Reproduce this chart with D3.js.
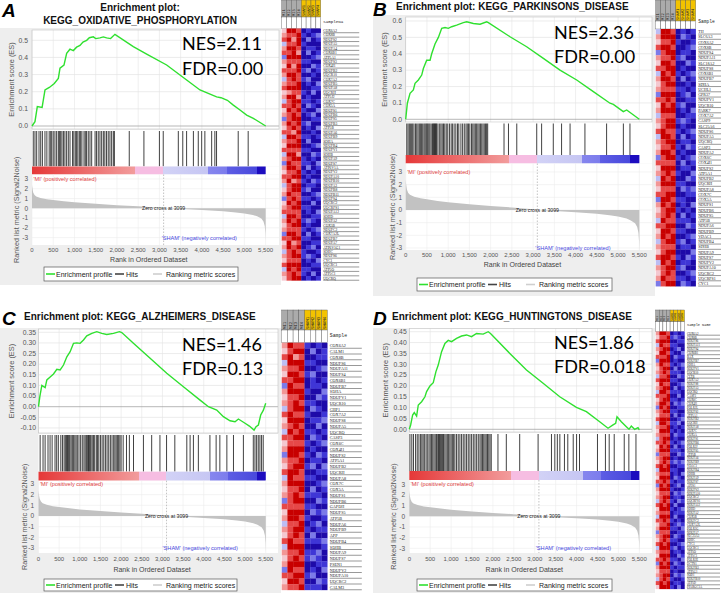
<!DOCTYPE html>
<html><head><meta charset="utf-8">
<script src="https://cdn.jsdelivr.net/npm/d3@7"></script>
<style>body{margin:0;background:#fff}svg{display:block}</style>
</head><body><script>
// ---------------- DATA ----------------
const xTicks=[0,500,1000,1500,2000,2500,3000,3500,4000,4500,5000,5500];
const sampleNames=["MI1","MI2","MI3","MI4","SHAM1","SHAM2","SHAM3","SHAM4"];
const zeroCross=3099;
const metricRanks=[0,5,15,30,60,100,200,350,500,750,1000,1500,2000,2500,3000,3099,3500,4000,4500,4800,5000,5200,5300,5400,5450,5480,5495,5502];
const metricVals=[2.4,2.2,1.9,1.6,1.35,1.2,1.05,0.92,0.85,0.72,0.62,0.46,0.32,0.2,0.06,0,-0.08,-0.18,-0.3,-0.42,-0.52,-0.68,-0.82,-1.05,-1.35,-1.8,-2.5,-3.3];
const cbRanks=[0,2425,2425,3093,3093,4152,4152,4584,4584,5290,5290,5502];
const cbColors=["#e53838","#f29c9c","#f6bde2","#f6bde2","#d2d2f6","#c6c6f3","#8686ee","#7c7cec","#5d5de4","#4848dc","#1c0cbf","#1c0cbf"];
const heatPalette=["#1e0aa8","#3f36d6","#7c7ae8","#bdbdf3","#f4c8d0","#f29696","#e64848","#c80000"];

const titles={A:["Enrichment plot:","KEGG_OXIDATIVE_PHOSPHORYLATION"],B:["Enrichment plot: KEGG_PARKINSONS_DISEASE"],C:["Enrichment plot: KEGG_ALZHEIMERS_DISEASE"],D:["Enrichment plot: KEGG_HUNTINGTONS_DISEASE"]};
const nesText={A:["NES=2.11","FDR=0.00"],B:["NES=2.36","FDR=0.00"],C:["NES=1.46","FDR=0.13"],D:["NES=1.86","FDR=0.018"]};

const esA=[[0,0],[70,0.025],[125,0.113],[238,0.108],[306,0.21],[408,0.225],[525,0.248],[620,0.278],[659,0.337],[753,0.355],[816,0.424],[894,0.448],[973,0.44],[1050,0.46],[1130,0.47],[1200,0.49],[1287,0.5],[1350,0.515],[1444,0.52],[1500,0.51],[1600,0.514],[1680,0.52],[1757,0.514],[1850,0.51],[1953,0.535],[2385,0.463],[2700,0.42],[3170,0.356],[3641,0.268],[3955,0.21],[4150,0.19],[4347,0.17],[4450,0.165],[4600,0.15],[4740,0.122],[4897,0.093],[5054,0.064],[5211,0.045],[5502,0]];
const esB=[[0,0],[39,0.098],[102,0.159],[180,0.179],[220,0.22],[298,0.24],[377,0.27],[416,0.31],[494,0.36],[573,0.36],[612,0.4],[690,0.46],[769,0.5],[848,0.555],[926,0.56],[1004,0.555],[1083,0.565],[1200,0.575],[1357,0.59],[1436,0.595],[1593,0.585],[1750,0.58],[1907,0.595],[1946,0.59],[2456,0.504],[2848,0.443],[3241,0.372],[3633,0.3],[4026,0.24],[4418,0.169],[4810,0.098],[4889,0.091],[5124,0.047],[5203,0.057],[5500,0]];
const esC=[[0,0],[32,0.047],[81,0.1],[161,0.09],[202,0.126],[282,0.14],[363,0.154],[444,0.176],[524,0.173],[605,0.196],[686,0.235],[766,0.259],[847,0.298],[927,0.3],[1008,0.298],[1089,0.314],[1169,0.333],[1290,0.345],[1411,0.353],[1532,0.345],[1653,0.34],[1815,0.345],[1960,0.353],[2016,0.349],[2298,0.298],[2702,0.228],[3105,0.157],[3508,0.094],[3911,0.031],[4113,0],[4315,-0.016],[4476,-0.047],[4637,-0.066],[4758,-0.071],[4839,-0.058],[5000,-0.078],[5105,-0.091],[5218,-0.11],[5266,-0.094],[5323,-0.086],[5379,-0.039],[5444,-0.016],[5500,0.016]];
const esD=[[0,0],[32,0.02],[80,0.066],[119,0.077],[175,0.061],[215,0.112],[295,0.127],[374,0.15],[414,0.174],[494,0.2],[573,0.215],[637,0.266],[692,0.296],[772,0.358],[852,0.396],[931,0.41],[1011,0.404],[1130,0.419],[1250,0.43],[1369,0.435],[1488,0.427],[1608,0.442],[1767,0.439],[1887,0.45],[1942,0.442],[2404,0.35],[2802,0.273],[3200,0.212],[3598,0.15],[3996,0.101],[4235,0.081],[4553,0.035],[4752,0.005],[4872,0.02],[4935,0.028],[4967,0.058],[5070,0.035],[5190,0.012],[5254,0],[5309,0.015],[5389,0],[5469,0.008],[5500,-0.003]];

const hitsA=[30,70,110,165,205,245,305,350,405,440,465,500,540,580,620,645,675,705,740,775,815,855,895,955,985,1020,1050,1080,1115,1145,1175,1225,1255,1285,1325,1365,1405,1485,1520,1560,1600,1640,1680,1715,1755,1795,1835,1875,1915,1940,2290,2635,3000,3090,3445,3550,3640,3800,3915,3995,4070,4230,4305,4345,4855,5090];
const hitsB=[25,55,85,110,140,165,195,230,260,290,320,345,370,400,430,455,480,500,520,545,570,600,630,650,665,680,700,715,730,760,800,830,860,890,920,955,990,1030,1070,1100,1140,1180,1220,1250,1300,1340,1380,1420,1450,1480,1510,1550,1580,1610,1640,1670,1700,1730,1760,1790,1820,1850,1880,1905,1930,2315,2420,2615,3085,3200,3475,3670,3870,4220,4730,5125,5280];
const hitsC=[40,110,160,230,280,330,400,440,480,540,580,620,650,680,700,720,740,760,790,820,850,880,910,940,980,1020,1060,1100,1130,1160,1190,1210,1230,1250,1270,1300,1330,1360,1400,1430,1460,1500,1540,1580,1620,1660,1700,1740,1780,1820,1850,1880,1910,1940,1970,2000,2050,2130,2200,2300,2540,2740,2940,3100,3300,3590,3670,3750,3870,4150,4300,4390,4560,4720,4960,5200,5240,5280,5320,5360,5400,5440];
const hitsD=[15,60,100,150,190,230,270,300,330,360,400,430,470,500,530,560,590,620,650,680,700,720,740,760,780,800,820,850,880,910,940,970,1000,1030,1060,1090,1130,1170,1210,1250,1290,1330,1370,1410,1450,1490,1530,1570,1610,1650,1690,1720,1750,1780,1810,1840,1870,1900,1930,1960,2120,2320,2640,3080,3400,3480,3540,3600,3710,3790,3920,4000,4070,4500,4690,4780,4900,5140,5250,5420];

const heatA=["47760100","56671012","67570201","36671000","57760110","66750201","27770012","56661100","47570021","66671201","57760010","36761200","56670102","67770011","45661020","57750100","36771101","66760210","47671002","56760120","26770011","57671200","46760102","66570010","37761101","56670200","47770012","66661100","37750021","56771010","27661102","57760201","46671010","66770100","57561021","36770110","46771200","57660012","26761101","47670020","56771100","66660102","37760011","57671210","46770100","56661012","27760201","66771100","47560011","57670120","36761001","56771210","46660102","67770011","37671100","56761020","46770101"];
const heatB=["37760101","57770210","46671001","67760012","26770110","56671200","47760021","66770100","37671012","57760201","46770010","56661101","27770120","66760011","47671200","57770102","36660011","56771210","46770100","67661012","37760201","56770110","46671021","57760100","26771012","66660201","47770110","56761002","37670021","57771100","46660212","66770011","27761100","57670102","46771010","56760201","37661110","66770021","47761100","57670012","36771201","56660110","46770002","67761021","37670110","56771200","46760012","57661101","26770210"];
const heatC=["57661010","46770201","67560011","37771100","56670012","47761200","66770101","27660110","57771002","46670021","56761100","36770210","67661001","47770112","56760020","37671101","66770210","46661012","57770100","27761021","56670110","46771202","67760011","37661100","57770012","46670201","56761110","26770021","66661100","47770212","57761001","36670120","56771011","46760200","67661112","37770001","56671120","46761210","57770011","27660102","66771200","47760021","56671110"];
const heatD=["57760101","46671210","67770011","37661100","56770120","47761002","66670211","27770100","57661012","46770201","56761110","36670021","67771100","47660012","56770201","37761110","66670020","46771101","57760212","27670011","56771100","46660201","67770012","37761120","56670101","47771010","56660211","36770100","66761012","47670201","57771110","26660021","56770100","46761212","67670011","37771100","56660102","47770210","66761011","27670120","57771001","46660212","56770110","36761021","67670200","47771012","56660111","37770200","66761010","46670121","57771102","26660011","56770210","46761100","67670012","37771201","56660110","47770021","66761102","27670210","57771011","46660100","56770212","36761001","67670110","47771020"];

const genesA=["COX6A2","COX8B","NDUFS2","NDUFA5","NDUFA4","COX6B1","ATP5A1","NDUFS3","COX4I1","NDUFB2","UQCR10","COX7A2","NDUFB5","NDUFA8","UQCRH","ATP5J2","COX7C","COX5A","NDUFS1","NDUFB6","NDUFS5","NDUFB3","ATP5B","NDUFA6","NDUFB9","SDHA","NDUFB4","NDUFV1","SDHB","NDUFA9","NDUFS7","ATP6V1A","NDUFV2","NDUFA10","NDUFB10","NDUFA3","NDUFB8","NDUFB11","NDUFS4","UQCRC2","UQCRFS1","NDUFA12","SDHD","NDUFA2","COX5B","NDUFC2","COX7A2L","NDUFB7","NDUFA7","ATP6V1G1","SDHC","NDUFS6","CYC1","UQCRC1","ATP5O","ATP5C1","UQCRQ"];
const genesB=["TH","SLC6A3","COX6A2","COX8B","NDUFS4","NDUFA11","SLC18A2","NDUFS8","COX6B1","NDUFB7","SDHA","UCHL1","GPR37","NDUFV1","UQCR10","PARK7","COX7A2","CASP9","SLC25A6","NDUFS6","NDUFA5","UQCRQ","CASP3","NDUFA2","COX6C","COX4I1","NDUFS2","ATP5A1","NDUFB2","UQCRH","NDUFA8","COX7C","COX5A","NDUFS1","NDUFB6","NDUFS5","ATP5B","NDUFA6","NDUFB9","VDAC1","NDUFB4","SDHB","NDUFA9","NDUFS7","NDUFV2","NDUFA10","UQCRC2","UQCRFS1","CYC1"];
const genesC=["COX6A2","CALM1","COX8B","NDUFS6","NDUFA11","NDUFS4","COX6B1","NDUFB7","SDHA","NDUFV1","UQCR10","CHP1","COX7A2","NDUFS8","NDUFA5","UQCRQ","CASP3","COX6C","COX4I1","NDUFS2","ATP5A1","NDUFB2","UQCRH","NDUFA8","COX7C","COX5A","NDUFS1","NDUFB6","GAPDH","NDUFS5","ATP5B","NDUFA6","NDUFB9","APP","NDUFB4","SDHB","NDUFA9","NDUFS7","PSEN1","NDUFV2","NDUFA10","UQCRC2","CALM3"];
const genesD=["COX6A2","COX8B","NDUFS6","NDUFA11","NDUFS4","COX6B1","BAX","NDUFB7","SDHA","NDUFV1","UQCR10","CLTB","COX7A2","NDUFS8","NDUFA5","UQCRQ","CASP3","COX6C","COX4I1","POLR2L","NDUFS2","ATP5A1","NDUFB2","UQCRH","NDUFA8","COX7C","COX5A","NDUFS1","NDUFB6","POLR2J","NDUFS5","ATP5B","NDUFA6","NDUFB9","VDAC1","NDUFB4","SDHB","NDUFA9","NDUFS7","AP2S1","NDUFV2","NDUFA10","UQCRC2","UQCRFS1","NDUFA12","SDHD","NDUFA2","COX5B","NDUFC2","COX7A2L","POLR2G","NDUFA7","SLC25A5","SDHC","CYC1","UQCRC1","ATP5O","ATP5C1","POLR2E","DCTN1","NDUFB3","ATP5G1","SOD1","NDUFB10","ATP5D","PPARGC1A"];

// ---------------- LAYOUT ----------------
const layouts=[
 {key:"A",es:esA,hits:hitsA,heat:heatA,genes:genesA,esTicks:[0,0.1,0.2,0.3,0.4,0.5],esFmt:".1f",
  letter:[2,17],titleX:140,titleY:[10.5,24],titleAnchor:"middle",bg:[0,28,281,285],
  x0:32,x5500:265.6,xEnd:279,esTop:30,esBot:129,esZero:126,esRef:0.5,esRefY:40.3,esLabX:11,esTickX:28,
  hitsTop:130,hitsBot:166.5,cbBot:174.5,metBot:245,met0:208.3,met3:179,metLabX:16,metTickX:28,
  xTickY:252,xTitleY:261.5,legend:[44,267,194,14],nes:[182,49.5,74.7],
  hm:{x:281.7,colW:4.88,hTop:0,hMid:17,rTop:28.5,rowH:4.42,labW:36,head:"SampleNa",fs:3.6}},
 {key:"B",es:esB,hits:hitsB,heat:heatB,genes:genesB,esTicks:[0,0.1,0.2,0.3,0.4,0.5,0.6],esFmt:".1f",
  letter:[373,16],titleX:396,titleY:[10.3],titleAnchor:"start",bg:[373,15,655,296],
  x0:405.7,x5500:639.3,xEnd:652,esTop:17,esBot:122,esZero:119.3,esRef:0.6,esRefY:21,esLabX:384,esTickX:402,
  hitsTop:122.5,hitsBot:155,cbBot:163.5,metBot:250,met0:210,met3:172,metLabX:392,metTickX:402,
  xTickY:257,xTitleY:267,legend:[417,278,195,13],nes:[554,39.3,62.7],
  hm:{x:655.7,colW:5,hTop:0,hMid:21,rTop:29,rowH:5.25,labW:23,head:"Sample",fs:4}},
 {key:"C",es:esC,hits:hitsC,heat:heatC,genes:genesC,esTicks:[-0.1,-0.05,0,0.05,0.1,0.15,0.2,0.25,0.3,0.35],esFmt:".2f",
  letter:[2,325],titleX:24,titleY:[320],titleAnchor:"start",bg:[0,328,281,593],
  x0:38.5,x5500:265.7,xEnd:278,esTop:329,esBot:433,esZero:406.7,esRef:0.35,esRefY:332.3,esLabX:11,esTickX:36,
  hitsTop:434,hitsBot:471.7,cbBot:480.7,metBot:553,met0:516,met3:484,metLabX:24,metTickX:34,
  xTickY:561,xTitleY:571.5,legend:[44,579,193,12],nes:[182,350.7,375.3],
  hm:{x:281.7,colW:5.7,hTop:310,hMid:330,rTop:342.7,rowH:5.75,labW:32,head:"Sample",fs:4.2}},
 {key:"D",es:esD,hits:hitsD,heat:heatD,genes:genesD,esTicks:[0,0.05,0.1,0.15,0.2,0.25,0.3,0.35,0.4,0.45],esFmt:".2f",
  letter:[373,325],titleX:392,titleY:[320],titleAnchor:"start",bg:[373,328,655,593],
  x0:409.3,x5500:639.3,xEnd:652,esTop:328.5,esBot:432,esZero:429.3,esRef:0.45,esRefY:331.7,esLabX:385,esTickX:406.7,
  hitsTop:433,hitsBot:471,cbBot:480,metBot:553,met0:516.3,met3:484.3,metLabX:393,metTickX:405,
  xTickY:561,xTitleY:571.5,legend:[417,579,195,12],nes:[554,349.3,372.7],
  hm:{x:655.7,colW:3.6,hTop:310,hMid:321.7,rTop:331.5,rowH:3.9,labW:33,head:"Sample Name",fs:3}}
];

// ---------------- DRAW ----------------
const SANS='"Liberation Sans", Arial, sans-serif';
const svg=d3.select("body").append("svg").attr("width",721).attr("height",593);
const defs=svg.append("defs");
const grad=defs.append("linearGradient").attr("id","cbgrad").attr("x1","0").attr("x2","1").attr("y1","0").attr("y2","0");
cbRanks.forEach((r,i)=>grad.append("stop").attr("offset",r/5502).attr("stop-color",cbColors[i]));
const fix=s=>s.replace(/\u2212/g,"-");

layouts.forEach(P=>{
  const g=svg.append("g");
  const x=d3.scaleLinear().domain([0,5500]).range([P.x0,P.x5500]);
  const yE=d3.scaleLinear().domain([0,P.esRef]).range([P.esZero,P.esRefY]);
  const yM=d3.scaleLinear().domain([0,3]).range([P.met0,P.met3]);
  const W=P.xEnd-P.x0;
  g.append("rect").attr("x",P.bg[0]).attr("y",P.bg[1]).attr("width",P.bg[2]-P.bg[0]).attr("height",P.bg[3]-P.bg[1]).attr("fill","#eeeeee");
  // ES plot
  g.append("rect").attr("x",P.x0).attr("y",P.esTop).attr("width",W).attr("height",P.esBot-P.esTop).attr("fill","#fff");
  g.selectAll(".vg").data(xTicks).join("line").attr("x1",d=>x(d)).attr("x2",d=>x(d)).attr("y1",P.esTop).attr("y2",P.esBot).attr("stroke","#e4e4e4").attr("stroke-width",0.6);
  g.selectAll(".hg").data(P.esTicks).join("line").attr("x1",P.x0).attr("x2",P.xEnd).attr("y1",d=>yE(d)).attr("y2",d=>yE(d)).attr("stroke",d=>Math.abs(d)<1e-9?"#999":"#e4e4e4").attr("stroke-width",0.7);
  g.append("rect").attr("x",P.x0).attr("y",P.esTop).attr("width",W).attr("height",P.esBot-P.esTop).attr("fill","none").attr("stroke","#c4c4c4").attr("stroke-width",0.6);
  g.selectAll(".et").data(P.esTicks).join("text").attr("x",P.esTickX).attr("y",d=>yE(d)+2.3).attr("text-anchor","end")
    .attr("font-family",SANS).attr("font-size",6.8).attr("fill","#555").text(d=>fix(d3.format(P.esFmt)(d)));
  const ymid=(P.esTop+P.esBot)/2;
  g.append("text").attr("transform",`translate(${P.esLabX},${ymid}) rotate(-90)`).attr("text-anchor","middle").attr("dy","0.35em")
    .attr("font-family",SANS).attr("font-size",7.4).attr("fill","#555").text("Enrichment score (ES)");
  g.append("path").datum(P.es).attr("d",d3.line().x(d=>x(d[0])).y(d=>yE(d[1]))).attr("fill","none").attr("stroke","#2fe02f").attr("stroke-width",1.4);
  // hits
  g.append("rect").attr("x",P.x0).attr("y",P.hitsTop).attr("width",W).attr("height",P.hitsBot-P.hitsTop).attr("fill","#fff");
  g.selectAll(".hit").data(P.hits).join("line").attr("x1",d=>x(d)).attr("x2",d=>x(d)).attr("y1",P.hitsTop+1).attr("y2",P.hitsBot).attr("stroke","#111").attr("stroke-width",0.8);
  // colour bar
  g.append("rect").attr("x",P.x0).attr("y",P.hitsBot).attr("width",W).attr("height",P.cbBot-P.hitsBot).attr("fill","#fff");
  g.append("rect").attr("x",x(0)).attr("y",P.hitsBot).attr("width",x(5502)-x(0)).attr("height",P.cbBot-P.hitsBot).attr("fill","url(#cbgrad)");
  // metric
  g.append("rect").attr("x",P.x0).attr("y",P.cbBot).attr("width",W).attr("height",P.metBot-P.cbBot).attr("fill","#fff");
  const mt=[-3,-2,-1,0,1,2,3];
  g.selectAll(".mg").data(xTicks).join("line").attr("x1",d=>x(d)).attr("x2",d=>x(d)).attr("y1",P.cbBot).attr("y2",P.metBot).attr("stroke","#ececec").attr("stroke-width",0.6);
  g.selectAll(".mh").data(mt).join("line").attr("x1",P.x0).attr("x2",P.xEnd).attr("y1",d=>yM(d)).attr("y2",d=>yM(d)).attr("stroke","#ececec").attr("stroke-width",0.6);
  const mdata=metricRanks.map((r,i)=>[r,metricVals[i]]);
  g.append("path").datum(mdata).attr("d",d3.area().x(d=>x(d[0])).y0(yM(0)).y1(d=>yM(d[1]))).attr("fill","#c2c2c2");
  g.append("line").attr("x1",x(zeroCross)).attr("x2",x(zeroCross)).attr("y1",P.cbBot).attr("y2",P.metBot).attr("stroke","#aaa").attr("stroke-width",0.7).attr("stroke-dasharray","1.5,1.5");
  g.selectAll(".mtl").data(mt).join("text").attr("x",P.metTickX).attr("y",d=>yM(d)+2.2).attr("text-anchor","end")
    .attr("font-family",SANS).attr("font-size",6.5).attr("fill","#555").text(d=>fix(String(d)));
  g.append("text").attr("transform",`translate(${P.metLabX},${(P.cbBot+P.metBot)/2}) rotate(-90)`).attr("text-anchor","middle").attr("dy","0.35em")
    .attr("font-family",SANS).attr("font-size",7.2).attr("fill","#555").text("Ranked list metric (Signal2Noise)");
  g.append("text").attr("x",P.x0+1.5).attr("y",yM(3)+2).attr("font-family",SANS).attr("font-size",5.6).attr("fill","#e04040").text("'MI' (positively correlated)");
  g.append("text").attr("x",P.x0+0.877*(P.x5500-P.x0)).attr("y",yM(-3)+2).attr("text-anchor","end").attr("font-family",SANS).attr("font-size",5.6).attr("fill","#4848e0").text("'SHAM' (negatively correlated)");
  g.append("text").attr("x",x(zeroCross)).attr("y",yM(0)+2).attr("text-anchor","middle").attr("font-family",SANS).attr("font-size",5.2).attr("fill","#222").text("Zero cross at "+zeroCross);
  // x axis
  g.selectAll(".xt").data(xTicks).join("text").attr("x",d=>x(d)).attr("y",P.xTickY).attr("text-anchor","middle")
    .attr("font-family",SANS).attr("font-size",6).attr("fill","#555").text(d=>d3.format(",")(d));
  g.append("text").attr("x",(P.x0+P.x5500)/2).attr("y",P.xTitleY).attr("text-anchor","middle").attr("font-family",SANS).attr("font-size",7).attr("fill","#444").text("Rank in Ordered Dataset");
  // legend
  const [L,T,LW,LH]=P.legend, cy=T+LH/2;
  g.append("rect").attr("x",L).attr("y",T).attr("width",LW).attr("height",LH).attr("fill","#fff").attr("stroke","#555").attr("stroke-width",0.7);
  const items=[["Enrichment profile","#2fe02f",2,12],["Hits","#444",71,82],["Ranking metric scores","#cfcfcf",109,122]];
  items.forEach(([t,c,lx,tx])=>{
    g.append("line").attr("x1",L+lx).attr("x2",L+lx+9).attr("y1",cy).attr("y2",cy).attr("stroke",c).attr("stroke-width",1.6);
    g.append("text").attr("x",L+tx).attr("y",cy+2.5).attr("font-family",SANS).attr("font-size",7).attr("fill","#222").text(t);
  });
  // titles
  g.append("text").attr("x",P.letter[0]).attr("y",P.letter[1]).attr("font-family",SANS).attr("font-weight","bold").attr("font-style","italic").attr("font-size",19).text(P.key);
  titles[P.key].forEach((t,i)=>g.append("text").attr("x",P.titleX).attr("y",P.titleY[i]).attr("text-anchor",P.titleAnchor)
    .attr("font-family",SANS).attr("font-weight","bold").attr("font-size",10).attr("fill","#111").text(t));
  nesText[P.key].forEach((t,i)=>g.append("text").attr("x",P.nes[0]).attr("y",P.nes[1+i]).attr("font-family","Lato, 'Open Sans', sans-serif").attr("font-size",18).attr("fill","#000").text(t));
  // heat map
  const h=P.hm;
  const hx=d3.scaleBand().domain(d3.range(8)).range([h.x,h.x+8*h.colW]);
  const n=P.heat.length;
  const hy=d3.scaleBand().domain(d3.range(n)).range([h.rTop,h.rTop+n*h.rowH]);
  const hg=svg.append("g");
  sampleNames.forEach((s,i)=>{
    hg.append("rect").attr("x",hx(i)).attr("y",h.hTop).attr("width",h.colW).attr("height",h.hMid-h.hTop).attr("fill",i<4?"#ababab":"#f3c300").attr("stroke","#555").attr("stroke-width",0.4);
    hg.append("rect").attr("x",hx(i)).attr("y",h.hMid).attr("width",h.colW).attr("height",h.rTop-h.hMid).attr("fill","#fff").attr("stroke","#555").attr("stroke-width",0.4);
    hg.append("text").attr("transform",`translate(${hx(i)+h.colW*0.72},${h.hMid-1}) rotate(-90)`).attr("font-family","'DejaVu Sans Mono', monospace").attr("font-size",Math.min(h.colW*0.75,4)).attr("fill","#222").text(s);
  });
  P.heat.forEach((row,r)=>row.split("").forEach((c,i)=>{
    hg.append("rect").attr("x",hx(i)).attr("y",hy(r)).attr("width",hx.bandwidth()+0.2).attr("height",hy.bandwidth()+0.2).attr("fill",heatPalette[+c]);
  }));
  const lx=h.x+8*h.colW+2.5;
  hg.append("text").attr("x",lx).attr("y",h.rTop-6).attr("font-family","'Liberation Mono', monospace").attr("font-size",h.fs+0.6).attr("fill","#222").text(h.head);
  P.genes.slice(0,n).forEach((gn,r)=>{
    hg.append("text").attr("x",lx).attr("y",hy(r)+h.rowH*0.8).attr("font-family","'Liberation Serif', serif").attr("font-size",h.fs).attr("fill","#222").text(gn);
    hg.append("line").attr("x1",lx).attr("x2",lx+h.labW).attr("y1",hy(r)+h.rowH-0.2).attr("y2",hy(r)+h.rowH-0.2).attr("stroke","#333").attr("stroke-width",0.5);
  });
});
</script></body></html>
